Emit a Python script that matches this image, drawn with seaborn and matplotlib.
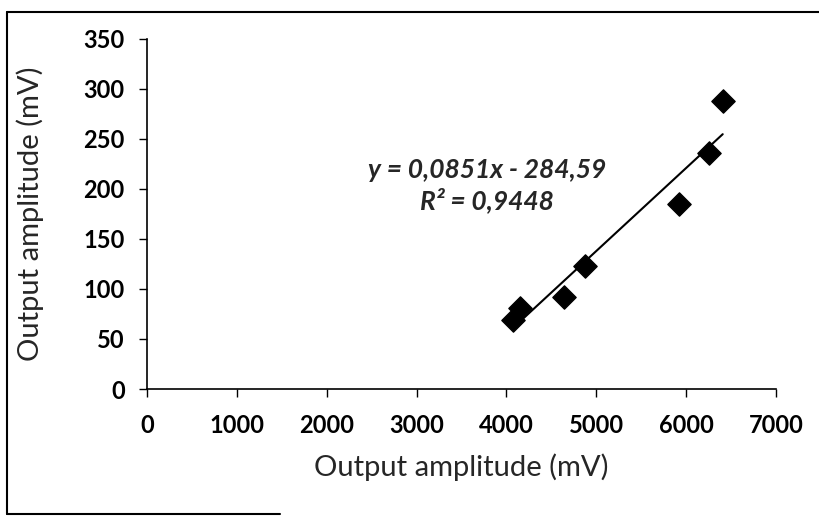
import matplotlib
matplotlib.use("Agg")
import matplotlib.pyplot as plt
from matplotlib.lines import Line2D
import seaborn as sns
import pandas as pd
import numpy as np

x_vals = [4071, 4149, 4638, 4872, 5918, 6251, 6407]
y_vals = [69, 81, 92, 123, 185, 236, 288]
eq_text = "y = 0,0851x - 284,59"
r2_text = "R² = 0,9448"
x_label = "Output amplitude (mV)"
y_label = "Output amplitude (mV)"
x_ticks = [0, 1000, 2000, 3000, 4000, 5000, 6000, 7000]
y_ticks = [0, 50, 100, 150, 200, 250, 300, 350]

sns.set_style("ticks")
plt.rcParams['font.family'] = ['Lato', 'DejaVu Sans']

df = pd.DataFrame({"x": x_vals, "y": y_vals})

fig = plt.figure(figsize=(8.19, 5.18), dpi=100)
ax = fig.add_axes([0.1795, 0.249, 0.768, 0.676])

sns.regplot(data=df, x="x", y="y", ci=None, ax=ax,
            marker="D", scatter_kws=dict(s=140, color="black", edgecolor="black", alpha=1, zorder=3),
            line_kws=dict(color="black", lw=1.5))

ax.set_xlim(0, 7000)
ax.set_ylim(0, 350)
ax.set_xticks(x_ticks)
ax.set_yticks(y_ticks)
ax.set_xticklabels([str(t) for t in x_ticks], fontsize=17, fontweight="bold")
ax.set_yticklabels([str(t) for t in y_ticks], fontsize=17, fontweight="bold")
ax.set_xlabel(x_label, fontsize=21, va="center")
ax.set_ylabel(y_label, fontsize=21, va="center")
ax.xaxis.set_label_coords(0.50, -0.223)
ax.yaxis.set_label_coords(-0.186, 0.5)
ax.tick_params(axis="both", direction="out", length=6, width=1, colors="black")
ax.tick_params(axis="x", pad=12)
ax.tick_params(axis="y", pad=10)
for s in ["top", "right"]:
    ax.spines[s].set_visible(False)
for s in ["left", "bottom"]:
    ax.spines[s].set_color("black")
    ax.spines[s].set_linewidth(1.2)

ax.text(0.54, 0.626, eq_text, transform=ax.transAxes,
        ha="center", va="center", fontsize=19, fontstyle="italic", fontweight="bold")
ax.text(0.54, 0.54, r2_text, transform=ax.transAxes,
        ha="center", va="center", fontsize=19, fontstyle="italic", fontweight="bold")

W, H = 819, 518
def fl(x0, y0, x1, y1):
    fig.add_artist(Line2D([x0 / W, x1 / W], [1 - y0 / H, 1 - y1 / H],
                          transform=fig.transFigure, color="black", lw=1.5))
fl(7, 12, 819, 12)
fl(7, 12, 7, 514)
fl(7, 514, 280, 514)

fig.savefig("out.png", dpi=100)
